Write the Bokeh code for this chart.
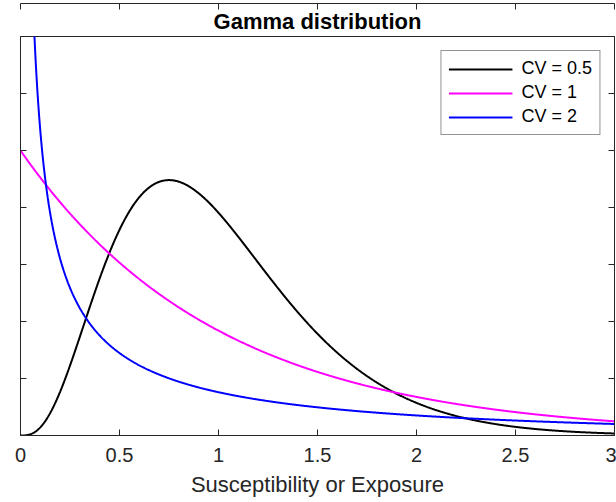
import math
import numpy as np
from bokeh.plotting import figure
from bokeh.models import LinearAxis, Range1d, FixedTicker, Legend, LegendItem, Title
from bokeh.embed import file_html
from bokeh.resources import INLINE

# Gamma densities with mean 1 and the coefficient of variation given below
cv_values = [0.5, 1.0, 2.0]
series_labels = ["CV = 0.5", "CV = 1", "CV = 2"]
series_colors = ["#000000", "#FF00FF", "#0000FF"]
mean_value = 1.0

x_ticks = [0, 0.5, 1, 1.5, 2, 2.5, 3]
x_tick_labels = {0: "0", 0.5: "0.5", 1: "1", 1.5: "1.5", 2: "2", 2.5: "2.5", 3: "3"}
y_ticks = [0, 0.2, 0.4, 0.6, 0.8, 1.0, 1.2, 1.4]

# evaluation grid, dense near zero where the CV = 2 density blows up
x_grid = np.unique(np.concatenate([np.geomspace(1e-4, 0.05, 200), np.linspace(0.0, 3.0, 1201)]))


def gamma_pdf(x, cv, mean):
    k = 1.0 / cv ** 2
    theta = mean * cv ** 2
    with np.errstate(divide="ignore", invalid="ignore"):
        y = np.power(x, k - 1.0) * np.exp(-x / theta) / (math.gamma(k) * theta ** k)
    return np.where(np.isfinite(y), y, 50.0)


TEXT = "#262626"
FONT = "Liberation Sans"

p = figure(width=616, height=502, output_backend="svg", toolbar_location=None,
           x_range=Range1d(0, 3), y_range=Range1d(0, 1.4),
           x_axis_location=None, y_axis_location=None,
           min_border_left=20, min_border_right=2, min_border_top=36, min_border_bottom=67,
           background_fill_color="white", border_fill_color="white")
p.grid.visible = False
p.outline_line_color = TEXT
p.outline_line_width = 1

title = Title(text="Gamma distribution", align="center", text_font=FONT,
              text_font_size="22px", text_font_style="bold", text_color="#000000",
              standoff=6)
p.add_layout(title, "above")


def make_axis(ticks, show_labels):
    ax = LinearAxis(ticker=FixedTicker(ticks=ticks))
    ax.major_tick_in = 6
    ax.major_tick_out = 0
    ax.minor_tick_line_color = None
    ax.axis_line_color = TEXT
    ax.major_tick_line_color = TEXT
    ax.major_label_text_font = FONT
    ax.major_label_text_color = TEXT
    if not show_labels:
        # tick marks only on these sides
        ax.major_label_overrides = {t: "" for t in ticks}
        ax.major_label_standoff = 0
    return ax


bottom = make_axis(x_ticks, True)
bottom.major_label_overrides = x_tick_labels
bottom.major_label_text_font_size = "20px"
bottom.major_label_standoff = 12
bottom.axis_label = "Susceptibility or Exposure"
bottom.axis_label_text_font = FONT
bottom.axis_label_text_font_size = "22px"
bottom.axis_label_text_font_style = "normal"
bottom.axis_label_text_color = TEXT
bottom.axis_label_standoff = 7
p.add_layout(bottom, "below")
p.add_layout(make_axis(x_ticks, False), "above")
p.add_layout(make_axis(y_ticks, False), "left")
p.add_layout(make_axis(y_ticks, False), "right")

items = []
for cv, label, color in zip(cv_values, series_labels, series_colors):
    r = p.line(x_grid, gamma_pdf(x_grid, cv, mean_value), line_color=color, line_width=2)
    items.append(LegendItem(label=label, renderers=[r]))

legend = Legend(items=items, location="top_right")
legend.label_text_font = FONT
legend.label_text_font_size = "18px"
legend.label_text_color = "#000000"
legend.glyph_width = 64
legend.glyph_height = 20
legend.label_height = 20
legend.spacing = 3
legend.padding = 7
legend.margin = 14
legend.label_standoff = 9
legend.border_line_color = TEXT
legend.border_line_width = 1
legend.background_fill_alpha = 1
p.add_layout(legend)

open("out.html", "w").write(file_html(p, INLINE))
